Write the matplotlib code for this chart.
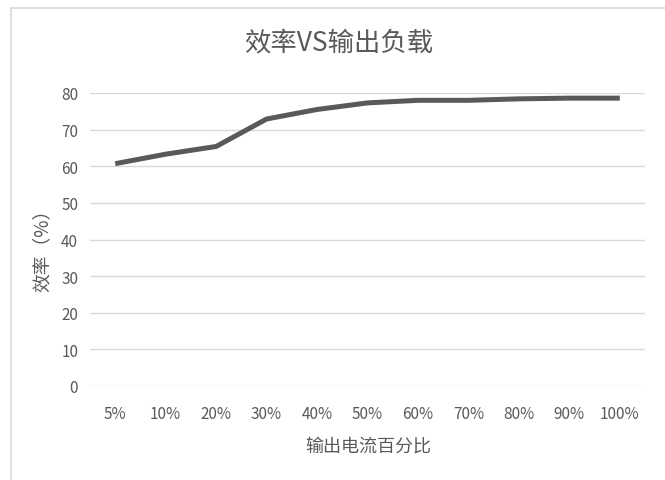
import matplotlib
matplotlib.use("Agg")
import matplotlib.pyplot as plt
from matplotlib.patches import Rectangle

plt.rcParams['font.family'] = ['Noto Sans CJK SC', 'DejaVu Sans']

categories = ["5%", "10%", "20%", "30%", "40%", "50%", "60%", "70%", "80%", "90%", "100%"]
efficiency = [60.7, 63.3, 65.4, 72.9, 75.5, 77.3, 78.0, 78.0, 78.4, 78.6, 78.6]
yticks = [0, 10, 20, 30, 40, 50, 60, 70, 80]

fig = plt.figure(figsize=(6.65, 4.81), dpi=100)
fig.patches.append(Rectangle((11/665, -0.1), 1.2, (1 - 9/481) + 0.1, transform=fig.transFigure,
                             fill=False, edgecolor='#d9d9d9', linewidth=1.2))
ax = fig.add_axes([90/665, 1 - 387/481, 555/665, 293/481])

x = list(range(len(categories)))
ax.plot(x, efficiency, color='#595959', linewidth=3.6, solid_capstyle='butt', zorder=3)

ax.set_xlim(-0.5, len(categories) - 0.5)
ax.set_ylim(0, 80)
ax.set_yticks(yticks)
ax.set_xticks(x)
ax.set_xticklabels(categories)
ax.yaxis.grid(True, color='#d9d9d9', linewidth=1.0)
ax.set_axisbelow(True)
for s in ax.spines.values():
    s.set_visible(False)
ax.tick_params(axis='both', length=0, labelcolor='#595959', labelsize=11)
ax.tick_params(axis='x', pad=14)
ax.tick_params(axis='y', pad=8.5)

fig.text(339/665, 1 - 43/481, "效率VS输出负载", ha='center', va='center', fontsize=19, color='#595959')
fig.text(368/665, 1 - 447/481, "输出电流百分比", ha='center', va='center', fontsize=13, color='#595959')
fig.text(42/665, 1 - 246/481, "效率（%）", ha='center', va='center', rotation=90, fontsize=13.5, color='#595959')

fig.savefig("out.png", dpi=100)
